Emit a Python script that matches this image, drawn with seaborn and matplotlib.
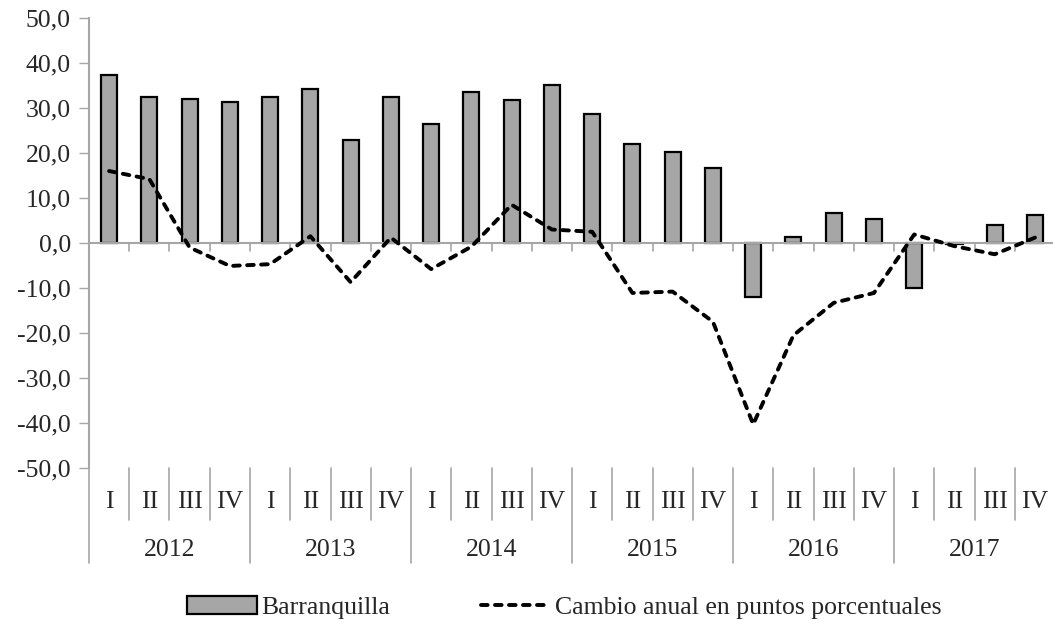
import numpy as np
import pandas as pd
import matplotlib
matplotlib.use("Agg")
import matplotlib.pyplot as plt
import matplotlib.transforms as mtransforms
from matplotlib.patches import Patch
from matplotlib.lines import Line2D
import seaborn as sns

years = ["2012", "2013", "2014", "2015", "2016", "2017"]
quarters = ["I", "II", "III", "IV"]
barranquilla = [37.4, 32.5, 32.1, 31.3, 32.5, 34.3, 22.8, 32.5, 26.4, 33.5, 31.7, 35.2,
                28.6, 22.0, 20.2, 16.7, -11.9, 1.3, 6.7, 5.3, -10.1, -0.2, 4.0, 6.2]
cambio = [16.0, 14.2, -1.0, -5.1, -4.7, 1.5, -8.7, 1.2, -5.8, -0.8, 8.5, 3.0,
          2.5, -11.1, -10.8, -17.5, -40.3, -20.5, -13.3, -11.1, 1.9, -0.7, -2.5, 1.2]

labels = [f"{y}-{q}" for y in years for q in quarters]
df = pd.DataFrame({"periodo": labels, "barranquilla": barranquilla, "cambio": cambio})
df["pos"] = np.arange(len(df))

sns.set_style("white")
plt.rcParams["font.family"] = ["Liberation Serif", "DejaVu Serif"]
fs = 18.5
grey = "#a6a6a6"
dash = [1.7, 1.9]

fig = plt.figure(figsize=(10.53, 6.26), dpi=100)
ax = fig.add_axes([0.0845, 0.2524, 0.9175, 0.7188])

sns.barplot(data=df, x="periodo", y="barranquilla", color=grey, saturation=1,
            width=0.4, edgecolor="black", linewidth=1.6, ax=ax)
sns.lineplot(x=df["pos"], y=df["cambio"], color="black", linewidth=2.8,
             ax=ax, legend=False)
ax.lines[-1].set_dashes(dash)
ax.lines[-1].set_dash_capstyle("round")

ax.set_xlim(-0.5, 23.5)
ax.set_ylim(-50, 50)
ax.set_yticks(np.arange(-50, 51, 10))
ax.set_yticklabels([f"{v:.1f}".replace(".", ",") for v in np.arange(-50, 51, 10)], fontsize=fs)
ax.tick_params(axis="y", length=7, width=1, color=grey, pad=6, left=True)
ax.set_xticks([])
ax.set_xlabel("")
ax.set_ylabel("")
for s in ["top", "right", "bottom"]:
    ax.spines[s].set_visible(False)
ax.spines["left"].set_color(grey)
ax.spines["left"].set_linewidth(1.5)
ax.axhline(0, color=grey, linewidth=1.5, zorder=1)

# small ticks on the zero line
for b in np.arange(0.5, 23, 1):
    ax.plot([b, b], [0, -1.8], color=grey, linewidth=1.2, zorder=1)

# multi-level category axis
trans = mtransforms.blended_transform_factory(ax.transData, ax.transAxes)
for b in np.arange(-0.5, 24, 1):
    depth = -0.211 if (b + 0.5) % 4 == 0 else -0.1156
    ax.plot([b, b], [0, depth], color=grey, linewidth=1.2, transform=trans, clip_on=False)
for i, lab in enumerate(labels):
    ax.text(i, -0.0756, lab.split("-")[1], transform=trans, ha="center", va="center", fontsize=fs)
for j, y in enumerate(years):
    ax.text(j * 4 + 1.5, -0.182, y, transform=trans, ha="center", va="center", fontsize=fs)

line_handle = Line2D([], [], color="black", linewidth=2.8, dashes=dash)
line_handle.set_dash_capstyle("round")
handles = [Patch(facecolor=grey, edgecolor="black", linewidth=1.6), line_handle]
fig.legend(handles, ["Barranquilla", "Cambio anual en puntos porcentuales"],
           loc="center", bbox_to_anchor=(0.536, 0.029), ncol=2, frameon=False,
           fontsize=fs, handlelength=2.7, handletextpad=0.2, columnspacing=3.5)

fig.savefig("out.png", dpi=100)
